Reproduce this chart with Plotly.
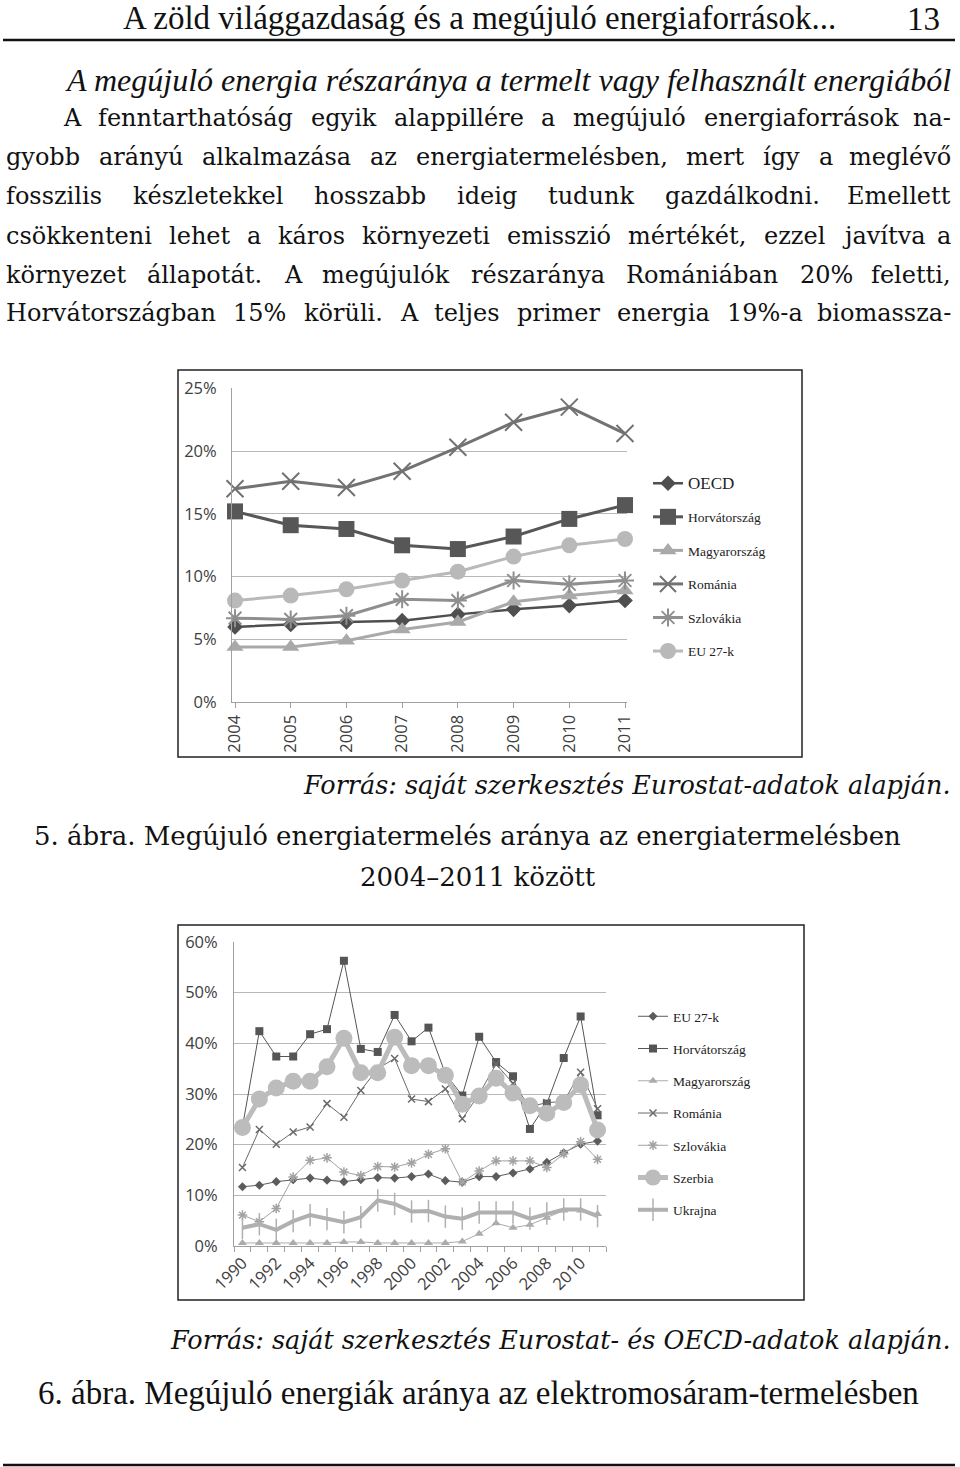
import unicodedata
import plotly.graph_objects as go

W, H = 960, 1467

# ---------------- data: chart 1 (5. ábra) ----------------
years1 = [2004, 2005, 2006, 2007, 2008, 2009, 2010, 2011]
oecd1 = [6.0, 6.2, 6.4, 6.5, 7.0, 7.4, 7.7, 8.1]
horvat1 = [15.2, 14.1, 13.8, 12.5, 12.2, 13.2, 14.6, 15.7]
magyar1 = [4.4, 4.4, 4.9, 5.8, 6.4, 8.0, 8.5, 8.9]
roman1 = [17.0, 17.6, 17.1, 18.4, 20.3, 22.3, 23.5, 21.4]
szlovak1 = [6.7, 6.6, 6.9, 8.2, 8.1, 9.7, 9.4, 9.7]
eu1 = [8.1, 8.5, 9.0, 9.7, 10.4, 11.6, 12.5, 13.0]
yticks1 = [0, 5, 10, 15, 20, 25]
ytext1 = ["0%", "5%", "10%", "15%", "20%", "25%"]

# ---------------- data: chart 2 (6. ábra) ----------------
years2 = list(range(1990, 2012))
eu2 = [11.7, 12.0, 12.7, 13.1, 13.4, 13.0, 12.7, 13.1, 13.5, 13.4, 13.7,
       14.2, 12.9, 12.6, 13.7, 13.7, 14.4, 15.2, 16.5, 18.4, 20.1, 20.7]
horvat2 = [23.5, 42.4, 37.4, 37.4, 41.8, 42.8, 56.3, 38.9, 38.3, 45.6, 40.4,
           43.1, 34.0, 29.7, 41.3, 36.3, 33.5, 23.1, 28.1, 37.1, 45.3, 25.8]
magyar2 = [0.6, 0.6, 0.6, 0.6, 0.6, 0.6, 0.8, 0.8, 0.6, 0.6, 0.6,
           0.6, 0.6, 0.9, 2.4, 4.5, 3.6, 4.2, 5.6, 7.0, 7.0, 6.3]
roman2 = [15.5, 23.0, 20.1, 22.5, 23.5, 28.1, 25.4, 30.7, 35.0, 37.0, 29.0,
          28.5, 31.0, 25.1, 30.0, 35.9, 32.1, 27.5, 28.3, 28.5, 34.3, 27.1]
szlovak2 = [6.1, 4.8, 7.4, 13.6, 16.9, 17.4, 14.6, 13.9, 15.7, 15.6, 16.4,
            18.1, 19.2, 12.6, 14.8, 16.8, 16.8, 16.8, 15.5, 18.2, 20.6, 17.1]
szerb2 = [23.4, 29.0, 31.2, 32.5, 32.5, 35.4, 41.0, 34.2, 34.2, 41.2, 35.6,
          35.6, 33.7, 28.0, 29.6, 33.1, 30.2, 27.7, 26.2, 28.3, 31.8, 22.9]
ukr2 = [3.6, 4.3, 3.2, 4.9, 6.1, 5.3, 4.7, 5.7, 9.0, 8.3, 6.8,
        6.9, 5.8, 5.4, 6.6, 6.6, 6.6, 5.4, 6.4, 7.2, 7.2, 5.9]
yticks2 = [0, 10, 20, 30, 40, 50, 60]
ytext2 = ["0%", "10%", "20%", "30%", "40%", "50%", "60%"]
xlabel_years2 = list(range(1990, 2012, 2))

# ---------------- page text ----------------
header_text = "A zöld világgazdaság és a megújuló energiaforrások..."
page_number = "13"
section_title = "A megújuló energia részaránya a termelt vagy felhasznált energiából"
body_lines = [
    "A fenntarthatóság egyik alappillére a megújuló energiaforrások na-",
    "gyobb arányú alkalmazása az energiatermelésben, mert így a meglévő",
    "fosszilis készletekkel hosszabb ideig tudunk gazdálkodni. Emellett",
    "csökkenteni lehet a káros környezeti emisszió mértékét, ezzel javítva a",
    "környezet állapotát. A megújulók részaránya Romániában 20% feletti,",
    "Horvátországban 15% körüli. A teljes primer energia 19%-a biomassza-",
]
source1 = "Forrás: saját szerkesztés Eurostat-adatok alapján."
caption1a = "5. ábra. Megújuló energiatermelés aránya az energiatermelésben"
caption1b = "2004–2011 között"
source2 = "Forrás: saját szerkesztés Eurostat- és OECD-adatok alapján."
caption2 = "6. ábra. Megújuló energiák aránya az elektromosáram-termelésben"


def px(x):
    return x / W


def py(y):
    return 1 - y / H


fig = go.Figure()

TICKFONT = dict(family="Open Sans", size=16.5, color="#404040")

# ---------- chart 1 traces ----------
s1 = [
    ("<span style='font-size:17px'>OECD</span>", oecd1, "#4f4f4f", "diamond", 12, 2.5),
    ("Horvátország", horvat1, "#575757", "square", 16, 3),
    ("Magyarország", magyar1, "#a9a9a9", "triangle-up", 15, 3),
    ("Románia", roman1, "#727272", "x-thin-open", 17, 3),
    ("Szlovákia", szlovak1, "#8f8f8f", "asterisk-open", 15, 3),
    ("EU 27-k", eu1, "#b9b9b9", "circle", 16, 3),
]
for i, (name, vals, col, sym, ms, lw) in enumerate(s1):
    mk = dict(symbol=sym, size=ms, color=col)
    if sym.endswith("open"):
        mk["line"] = dict(color=col, width=2)
    fig.add_trace(go.Scatter(
        x=years1, y=vals, name=name, mode="lines+markers",
        line=dict(color=col, width=lw), marker=mk,
        xaxis="x", yaxis="y", legend="legend", legendgroup="a%d" % i,
        cliponaxis=False))

# ---------- chart 2 traces ----------
s2 = [
    ("EU 27-k", eu2, "#5c5c5c", "diamond", 7, 1, 1),
    ("Horvátország", horvat2, "#555555", "square", 8, 1, 1),
    ("Magyarország", magyar2, "#ababab", "triangle-up", 8, 1, 1),
    ("Románia", roman2, "#6a6a6a", "x-thin-open", 7, 1, 1.5),
    ("Szlovákia", szlovak2, "#a3a3a3", "asterisk-open", 8, 1, 1.5),
    ("Szerbia", szerb2, "#bcbcbc", "circle", 17, 5, 1),
    ("Ukrajna", ukr2, "#b0b0b0", "line-ns-open", 16, 4, 1.5),
]
for i, (name, vals, col, sym, ms, lw, mlw) in enumerate(s2):
    mk = dict(symbol=sym, size=ms, color=col)
    if sym.endswith("open"):
        mk["line"] = dict(color=col, width=mlw)
    fig.add_trace(go.Scatter(
        x=years2, y=vals, name=name, mode="lines+markers",
        line=dict(color=col, width=lw), marker=mk,
        xaxis="x2", yaxis="y2", legend="legend2", legendgroup="b%d" % i,
        cliponaxis=False))

# ---------- axes ----------
x1_left, x1_right = 232, 627
step1 = (625 - 235) / 7.0
fig.update_layout(
    xaxis=dict(
        domain=[px(x1_left), px(x1_right)], anchor="y", automargin=False,
        range=[2004 - (235 - x1_left) / step1, 2011 + (x1_right - 625) / step1],
        tickvals=years1, ticktext=[str(v) for v in years1], tickangle=-90,
        ticks="outside", ticklen=5, tickcolor="#a0a0a0",
        showline=True, linecolor="#a0a0a0", linewidth=1,
        showgrid=False, zeroline=False, tickfont=TICKFONT, fixedrange=True),
    yaxis=dict(
        domain=[py(702.3), py(388.3)], anchor="x", range=[0, 25], automargin=False,
        tickvals=yticks1, ticktext=ytext1, showgrid=True, gridcolor="#b8b8b8",
        gridwidth=1, showline=True, linecolor="#a0a0a0", zeroline=False,
        ticks="", ticklabelstandoff=11, tickfont=TICKFONT, fixedrange=True),
    xaxis2=dict(
        domain=[px(234), px(606)], anchor="y2", range=[1989.5, 2011.5],
        automargin=False,
        tickvals=xlabel_years2, ticktext=[str(v) for v in xlabel_years2],
        tickangle=-45, ticks="", showline=True, linecolor="#a0a0a0",
        minor=dict(ticks="outside", ticklen=5, tickcolor="#a0a0a0",
                   tick0=1989.5, dtick=1, showgrid=False),
        showgrid=False, zeroline=False, tickfont=TICKFONT, fixedrange=True),
    yaxis2=dict(
        domain=[py(1246), py(942)], anchor="x2", range=[0, 60], automargin=False,
        tickvals=yticks2, ticktext=ytext2, showgrid=True, gridcolor="#b8b8b8",
        showline=True, linecolor="#a0a0a0", zeroline=False, ticks="",
        ticklabelstandoff=12, tickfont=TICKFONT, fixedrange=True),
)

fig.update_layout(
    legend=dict(x=px(648), y=py(468), xanchor="left", yanchor="top",
                font=dict(family="Liberation Serif", size=13.5, color="#222"),
                tracegroupgap=13, bgcolor="rgba(0,0,0,0)", itemwidth=30),
    legend2=dict(x=px(633), y=py(1001), xanchor="left", yanchor="top",
                 font=dict(family="Liberation Serif", size=13.5, color="#222"),
                 tracegroupgap=11.7, bgcolor="rgba(0,0,0,0)", itemwidth=30),
)

# ---------- page shapes ----------
shapes = [
    dict(type="line", xref="paper", yref="paper", x0=px(3), x1=px(955),
         y0=py(40), y1=py(40), line=dict(color="#111", width=2.5)),
    dict(type="line", xref="paper", yref="paper", x0=px(3), x1=px(955),
         y0=py(1465), y1=py(1465), line=dict(color="#111", width=2.5)),
    dict(type="rect", xref="paper", yref="paper", x0=px(178), x1=px(802),
         y0=py(757), y1=py(370), line=dict(color="#222", width=1.5)),
    dict(type="rect", xref="paper", yref="paper", x0=px(178), x1=px(804),
         y0=py(1300), y1=py(925), line=dict(color="#222", width=1.5)),
]

# ---------- page text ----------
annotations = []


def ann(text, x, y, size, family, anchor="left", color="#111"):
    annotations.append(dict(
        text=text, x=px(x), y=py(y), xref="paper", yref="paper",
        xanchor=anchor, yanchor="middle", showarrow=False,
        font=dict(family=family, size=size, color=color)))


CW = {
    "a": .596, "b": .64, "c": .56, "d": .64, "e": .592, "f": .37, "g": .64,
    "h": .644, "i": .32, "j": .31, "k": .6, "l": .32, "m": .948, "n": .644,
    "o": .602, "p": .64, "q": .64, "r": .478, "s": .513, "t": .402,
    "u": .644, "v": .565, "w": .856, "x": .564, "y": .565, "z": .527,
    "A": .722, "H": .872, "E": .735, "R": .77, " ": .318, ".": .318,
    ",": .318, "-": .338, "%": .95,
}


def est_width(s, size):
    tot = 0.0
    for ch in s:
        base = unicodedata.normalize("NFD", ch)[0]
        if base in CW:
            tot += CW[base]
        elif base.isdigit():
            tot += .636
        elif base.isupper():
            tot += .74
        else:
            tot += .6
    return tot * size


BODY_FONT = "DejaVu Serif"
BODY_SIZE = 24


def justified(line, y, left, right):
    words = line.split(" ")
    widths = [est_width(w, BODY_SIZE) for w in words]
    gap = (right - left - sum(widths)) / (len(words) - 1)
    x = left
    for i, w in enumerate(words):
        if i == len(words) - 1:
            ann(w, right, y, BODY_SIZE, BODY_FONT, anchor="right")
        else:
            ann(w, x - 1, y, BODY_SIZE, BODY_FONT, anchor="left")
        x += widths[i] + gap


ann(header_text, 121, 18, 33, "Liberation Serif")
ann(page_number, 942, 19, 33, "Liberation Serif", anchor="right")
ann("<i>" + section_title + "</i>", 953, 80, 32, "Liberation Serif", anchor="right")

body_y = [118, 157, 196, 236, 275, 313]
for k, (line, y) in enumerate(zip(body_lines, body_y)):
    justified(line, y, 62 if k == 0 else 5, 953)

ann("<i>" + source1 + "</i>", 953, 785, 25.5, BODY_FONT, anchor="right")
ann(caption1a, 467, 836, 26, BODY_FONT, anchor="center")
ann(caption1b, 478, 877, 26, BODY_FONT, anchor="center")
ann("<i>" + source2 + "</i>", 953, 1340, 25.5, BODY_FONT, anchor="right")
ann(caption2, 478, 1393, 33, "Liberation Serif", anchor="center")

fig.update_layout(
    width=W, height=H, margin=dict(l=0, r=0, t=0, b=0, autoexpand=False),
    paper_bgcolor="white", plot_bgcolor="white",
    shapes=shapes, annotations=annotations, showlegend=True,
)

fig.write_html("out.html")
